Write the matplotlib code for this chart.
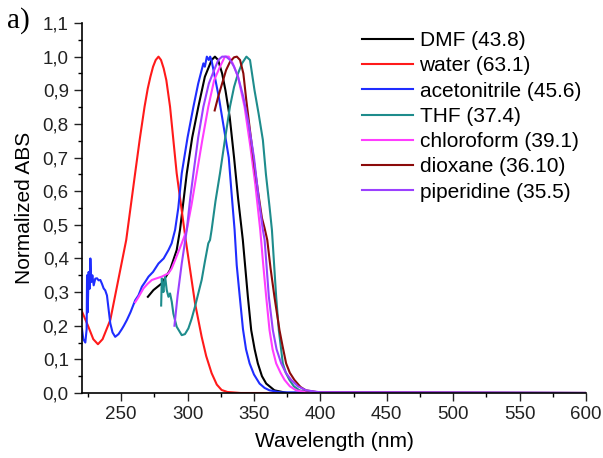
import matplotlib
matplotlib.use("Agg")
import matplotlib.pyplot as plt
from matplotlib.ticker import MultipleLocator

# ---- data ----
labels = ["DMF (43.8)", "water (63.1)", "acetonitrile (45.6)", "THF (37.4)",
          "chloroform (39.1)", "dioxane (36.10)", "piperidine (35.5)"]
colors = ["#000000", "#FF1A1A", "#1F2DFF", "#1E8C8C", "#FF3DFF", "#8B0A0A", "#9B40FF"]

dmf_wl = [270.1, 274.3, 280.6, 286.8, 291.8, 294.3, 299.4, 303.5, 308.1, 313, 318.1, 320.6,
          323, 326, 328.5, 331.7, 335, 338, 341.6, 345.4, 347.9, 350.5, 352.9, 356, 359.2,
          365.4, 375, 600]
dmf_abs = [0.286, 0.306, 0.326, 0.366, 0.425, 0.485, 0.653, 0.76, 0.851, 0.94, 0.99, 1.0,
           0.99, 0.95, 0.90, 0.821, 0.70, 0.58, 0.455, 0.286, 0.187, 0.13, 0.088, 0.05, 0.028,
           0.008, 0.0, 0.0]

water_wl = [220.5, 225, 229, 232.5, 236, 241.8, 247, 253.8, 260.5, 264, 267.6, 270, 272, 274,
            276, 278.1, 280, 282, 284, 286.8, 291.8, 298.6, 305.6, 310.6, 314, 318.1, 322,
            325.6, 330, 340, 600]
water_abs = [0.242, 0.2, 0.16, 0.145, 0.16, 0.217, 0.32, 0.455, 0.653, 0.755, 0.851, 0.905,
             0.94, 0.97, 0.99, 1.0, 0.99, 0.965, 0.93, 0.851, 0.653, 0.455, 0.267, 0.167, 0.11,
             0.059, 0.025, 0.009, 0.003, 0.0, 0.0]

acn_wl = [220.5, 221.5, 223, 224, 224.3, 224.8, 225.5, 226.3, 226.8, 227.5, 228.3, 229.3,
          230.5, 231.8, 233, 234.3, 235.5, 236.8, 238, 239.3, 240.5, 241.8, 243.5, 245.5, 248,
          250.5, 252, 254.3, 257, 260.6, 263, 265.6, 268, 270.6, 274, 278.1, 282, 285.6, 288,
          290.6, 293, 295.6, 300, 304.4, 308, 311.9, 313, 314.5, 316, 317, 318, 319, 321,
          323.5, 326, 328.5, 331, 333, 335.4, 337, 339.2, 341.7, 344, 346.7, 350, 354.2, 358,
          361.7, 370, 600]
acn_abs = [0.19, 0.16, 0.15, 0.19, 0.35, 0.24, 0.36, 0.31, 0.40, 0.33, 0.35, 0.32,
           0.34, 0.341, 0.335, 0.336, 0.325, 0.311, 0.305, 0.29, 0.25, 0.207, 0.18, 0.167, 0.175,
           0.19, 0.2, 0.217, 0.24, 0.276, 0.29, 0.316, 0.33, 0.346, 0.36, 0.385, 0.40, 0.425, 0.445,
           0.485, 0.55, 0.653, 0.76, 0.851, 0.92, 0.98, 0.97, 1.0, 0.99, 1.0, 0.99, 0.97, 0.93,
           0.88, 0.82, 0.76, 0.70, 0.60, 0.485, 0.38, 0.29, 0.19, 0.13, 0.088, 0.055, 0.028, 0.015,
           0.008, 0.002, 0.0]

thf_wl = [280.1, 280.6, 281.2, 281.8, 282.5, 283.1, 284.3, 285.6, 286.8, 288.1, 289.3, 291.8,
          295.6, 298, 300.6, 303, 305.6, 308, 310.6, 313, 315.6, 316.9, 318.1, 321, 324.4, 328,
          331.9, 335, 338, 341, 344.3, 347, 350.4, 353.5, 356.7, 359, 361.7, 363.5, 366.7,
          368.7, 371.7, 374, 376.7, 380, 384.2, 392, 600]
thf_abs = [0.26, 0.341, 0.32, 0.30, 0.33, 0.346, 0.306, 0.286, 0.296, 0.271, 0.236, 0.197,
           0.172, 0.175, 0.192, 0.22, 0.257, 0.295, 0.336, 0.39, 0.445, 0.455, 0.485, 0.57, 0.653,
           0.75, 0.851, 0.91, 0.95, 0.98, 1.0, 0.99, 0.90, 0.83, 0.752, 0.65, 0.554, 0.485, 0.286,
           0.187, 0.088, 0.06, 0.039, 0.02, 0.008, 0.001, 0.0]

chcl3_wl = [260.6, 263, 266.8, 270, 273.1, 276, 280.6, 285.6, 288, 290.6, 295.6, 299.4, 303,
            306.9, 311, 315.6, 320, 324.4, 328.1, 331, 334, 338, 342.9, 347, 351, 354.7, 357,
            359.2, 361.7, 364, 366.7, 370, 373, 377, 381.7, 390, 600]
chcl3_abs = [0.27, 0.285, 0.311, 0.325, 0.336, 0.34, 0.346, 0.356, 0.37, 0.395, 0.445, 0.485,
             0.56, 0.653, 0.75, 0.851, 0.93, 0.97, 1.0, 1.0, 0.98, 0.94, 0.851, 0.74, 0.62, 0.485,
             0.38, 0.286, 0.187, 0.13, 0.088, 0.06, 0.039, 0.02, 0.008, 0.002, 0.0]

diox_wl = [320.4, 323, 326, 329, 332, 335, 337.1, 339.5, 342, 344.2, 347, 350.4, 353, 356, 358,
           360, 362.5, 365.4, 369.2, 371.5, 374.2, 377, 380.4, 385, 389, 400, 600]
diox_abs = [0.84, 0.88, 0.92, 0.96, 0.985, 0.998, 1.0, 0.99, 0.95, 0.871, 0.78, 0.673, 0.6,
            0.52, 0.49, 0.455, 0.37, 0.286, 0.187, 0.14, 0.088, 0.06, 0.039, 0.018, 0.008,
            0.001, 0.0]

pip_wl = [290.1, 292.5, 295.6, 299.4, 302, 304.4, 308, 311.9, 316, 320, 323.1, 326, 329, 332,
          335, 338, 342, 346, 350, 353.5, 356.7, 358, 361.2, 364.2, 367, 370.5, 374, 378, 383,
          389.3, 400, 600]
pip_abs = [0.20, 0.29, 0.385, 0.485, 0.58, 0.653, 0.76, 0.851, 0.92, 0.96, 0.99, 1.0, 1.0,
           0.99, 0.97, 0.94, 0.88, 0.80, 0.70, 0.58, 0.485, 0.455, 0.286, 0.187, 0.13, 0.088,
           0.06, 0.039, 0.02, 0.008, 0.002, 0.0]

xs = [dmf_wl, water_wl, acn_wl, thf_wl, chcl3_wl, diox_wl, pip_wl]
ys = [dmf_abs, water_abs, acn_abs, thf_abs, chcl3_abs, diox_abs, pip_abs]

x_ticks = [250, 300, 350, 400, 450, 500, 550, 600]
y_ticks = [0.0, 0.1, 0.2, 0.3, 0.4, 0.5, 0.6, 0.7, 0.8, 0.9, 1.0, 1.1]
y_ticklabels = ["0,0", "0,1", "0,2", "0,3", "0,4", "0,5", "0,6", "0,7", "0,8", "0,9", "1,0", "1,1"]

# ---- figure ----
plt.rcParams['font.family'] = ['Liberation Sans', 'DejaVu Sans']
fig = plt.figure(figsize=(6.03, 4.58), dpi=100)
ax = fig.add_axes([82 / 603, 65 / 458, 504 / 603, 370 / 458])

for x, y, c, lab in zip(xs, ys, colors, labels):
    ax.plot(x, y, color=c, lw=1.5, label=lab)

ax.set_xlim(220.5, 600)
ax.set_ylim(0.0, 1.1)
ax.set_xticks(x_ticks)
ax.set_yticks(y_ticks)
ax.set_yticklabels(y_ticklabels)
ax.xaxis.set_minor_locator(MultipleLocator(25))
ax.yaxis.set_minor_locator(MultipleLocator(0.05))
ax.tick_params(which='major', direction='out', length=6, width=1, labelsize=13.5, colors='#222222')
ax.tick_params(which='minor', direction='out', length=3, width=1)
for s in ['top', 'right']:
    ax.spines[s].set_visible(False)
for s in ['left', 'bottom']:
    ax.spines[s].set_linewidth(1.2)

ax.set_xlabel("Wavelength (nm)", fontsize=15, labelpad=6)
ax.set_ylabel("Normalized ABS", fontsize=15, labelpad=6)

ax.legend(loc='upper left', bbox_to_anchor=(0.556, 0.978), frameon=False, fontsize=15,
          handlelength=2.45, handletextpad=0.3, labelspacing=0.3, borderpad=0,
          borderaxespad=0)

fig.text(7 / 603, 1 - 21 / 458, "a)", fontsize=21, family='Liberation Serif', va='center')

fig.savefig("out.png", dpi=100)
